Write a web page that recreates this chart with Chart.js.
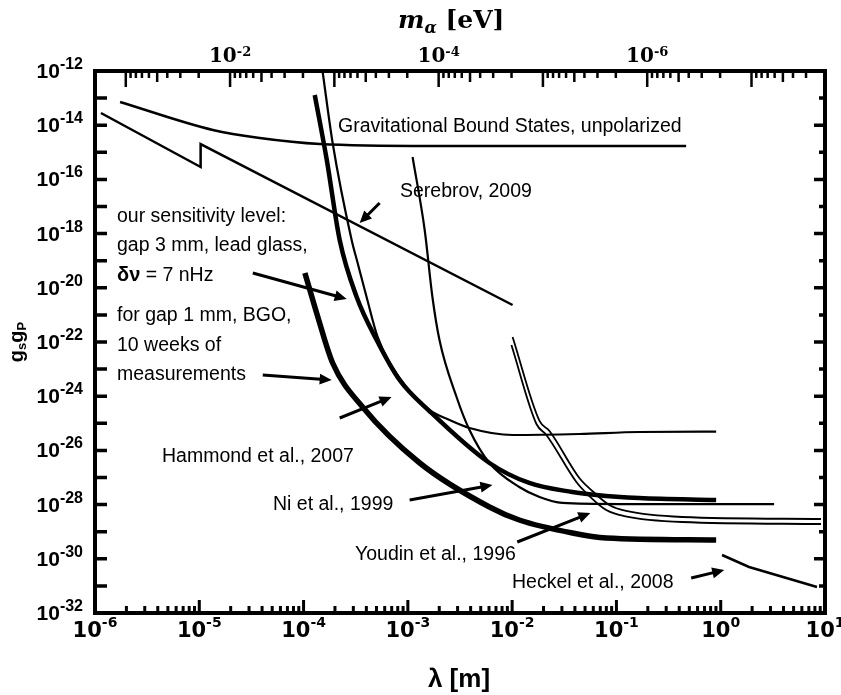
<!DOCTYPE html>
<html>
<head>
<meta charset="utf-8">
<script src="https://cdn.jsdelivr.net/npm/chart.js@4.4.1/dist/chart.umd.min.js"></script>
<style>
  html, body { margin: 0; padding: 0; background: #fff; }
  canvas { display: block; }
</style>
</head>
<body>
<canvas id="chart" width="841" height="695"></canvas>
<script>
'use strict';

// axis ranges
const LAMBDA_MIN = 1e-6, LAMBDA_MAX = 10;      // λ [m]
const G_MIN = 1e-32, G_MAX = 1e-12;            // gS gP
const HBARC = 1.9733e-7;                       // eV·m, m = ħc/λ

// tick label exponents
const xTickExps = [-6, -5, -4, -3, -2, -1, 0, 1];
const yTickExps = [-12, -14, -16, -18, -20, -22, -24, -26, -28, -30, -32];
const mTickExps = [-2, -4, -6];

// Gravitational Bound States, unpolarized
const gravLambda = [1.74e-6, 1.35e-5, 3.8e-5, 1.43e-4, 1.61e-3, 0.466];
const gravG      = [7.18e-14, 6.65e-15, 3.37e-15, 2.02e-15, 1.71e-15, 1.71e-15];

// Serebrov, 2009
const serebrovLambda = [1.14e-6, 1.03e-5, 1.03e-5, 1.01e-2];
const serebrovG      = [2.82e-14, 2.87e-16, 2.02e-15, 2.32e-21];

// our sensitivity level: gap 3 mm, lead glass, δν = 7 nHz
const leadLambda = [1.28e-4, 1.67e-4, 2.22e-4, 3.23e-4, 5.02e-4, 8.33e-4, 1.61e-3, 6.06e-3, 1.46e-2, 3.78e-2, 6.41e-2, 0.165, 0.904];
const leadG      = [1.30e-13, 5.20e-16, 5.81e-19, 4.58e-21, 1.19e-22, 3.96e-24, 2.84e-25, 3.43e-27, 6.27e-28, 2.92e-28, 2.26e-28, 1.75e-28, 1.48e-28];

// gap 1 mm, BGO, 10 weeks of measurements
const bgoLambda = [1.03e-4, 1.37e-4, 1.90e-4, 3.68e-4, 1.30e-3, 6.06e-3, 1.17e-2, 3.78e-2, 7.99e-2, 0.904];
const bgoG      = [3.52e-20, 8.37e-22, 1.68e-23, 3.99e-25, 3.43e-27, 8.15e-29, 2.70e-29, 8.95e-30, 5.86e-30, 4.94e-30];

// Hammond et al., 2007
const hammondLambda = [1.52e-4, 1.90e-4, 2.89e-4, 3.30e-4, 4.02e-4, 5.13e-4, 8.33e-4, 1.61e-3, 2.51e-3, 3.90e-3, 1.01e-2, 4.41e-2, 0.165, 0.904];
const hammondG      = [1e-12, 2.20e-15, 5.81e-19, 8.22e-20, 4.58e-21, 1.53e-22, 4.70e-24, 3.10e-25, 1.32e-25, 6.71e-26, 3.70e-26, 4.03e-26, 4.78e-26, 4.90e-26];

// Ni et al., 1999
const niLambda = [1.11e-3, 1.45e-3, 1.72e-3, 2.01e-3, 2.93e-3, 3.90e-3, 6.06e-3, 1.17e-2, 1.83e-2, 3.03e-2, 0.107, 3.25];
const niG      = [6.71e-16, 1.36e-18, 4.58e-21, 1.19e-22, 9.33e-25, 5.66e-26, 3.43e-27, 4.46e-28, 1.91e-28, 1.15e-28, 1.05e-28, 1.05e-28];

// Youdin et al., 1996 (pair of curves)
const youdinALambda = [1.01e-2, 1.83e-2, 2.28e-2, 4.41e-2, 5.87e-2, 8.54e-2, 0.124, 0.427, 9.15];
const youdinAG      = [1.53e-22, 1.22e-25, 5.20e-26, 9.60e-28, 3.18e-28, 9.66e-29, 5.81e-29, 3.48e-29, 2.94e-29];
const youdinBLambda = [9.84e-3, 1.71e-2, 2.13e-2, 4.13e-2, 5.50e-2, 7.99e-2, 0.119, 0.427, 9.15];
const youdinBG      = [7.74e-23, 9.42e-26, 3.70e-26, 6.82e-28, 2.07e-28, 6.32e-29, 3.79e-29, 2.28e-29, 1.92e-29];

// Heckel et al., 2008
const heckelLambda = [1.03, 1.87, 8.38];
const heckelG      = [1.38e-30, 4.98e-31, 9.10e-32];

// annotation arrows, in data coordinates: [λ0, g0, λ1 (tip), g1 (tip)]
const arrowSerebrov = [5.36e-4, 1.35e-17, 3.45e-4, 2.46e-18];
const arrowLead     = [3.26e-5, 3.52e-20, 2.59e-4, 3.86e-21];
const arrowBgo      = [4.06e-5, 6.05e-24, 1.86e-4, 3.96e-24];
const arrowHammond  = [2.22e-4, 1.57e-25, 6.98e-4, 9.33e-25];
const arrowNi       = [1.04e-3, 1.48e-28, 6.47e-3, 5.28e-28];
const arrowYoudin   = [1.12e-2, 4.17e-30, 5.62e-2, 4.90e-29];
const arrowHeckel   = [0.521, 1.95e-31, 1.08, 3.86e-31];

const SANS = 'Liberation Sans, Arial, sans-serif';
const NOTE_FONT = '19.5px ' + SANS;

const notes = [
  { text: 'Gravitational Bound States, unpolarized', x: 338, y: 132 },
  { text: 'Serebrov, 2009', x: 400, y: 197 },
  { text: 'our sensitivity level:', x: 117, y: 222 },
  { text: 'gap 3 mm, lead glass,', x: 117, y: 251 },
  { text: 'for gap 1 mm, BGO,', x: 117, y: 321 },
  { text: '10 weeks of', x: 117, y: 351 },
  { text: 'measurements', x: 117, y: 380 },
  { text: 'Hammond et al., 2007', x: 162, y: 462 },
  { text: 'Ni et al., 1999', x: 273, y: 510 },
  { text: 'Youdin et al., 1996', x: 355, y: 560 },
  { text: 'Heckel et al., 2008', x: 512, y: 588 }
];

function pts(xs, ys) {
  return xs.map((x, i) => ({ x, y: ys[i] }));
}

function curve(label, xs, ys, width, smooth) {
  return {
    label,
    data: pts(xs, ys),
    borderColor: '#000',
    borderWidth: width,
    pointRadius: 0,
    fill: false,
    tension: 0,
    cubicInterpolationMode: smooth ? 'monotone' : 'default'
  };
}

function runs(ctx, x, y, parts, align) {
  let w = 0;
  parts.forEach((p) => { ctx.font = p.font; w += ctx.measureText(p.t).width; });
  let cx = align === 'center' ? x - w / 2 : align === 'right' ? x - w : x;
  parts.forEach((p) => {
    ctx.font = p.font;
    ctx.fillText(p.t, cx, y + (p.dy || 0));
    cx += ctx.measureText(p.t).width;
  });
}

function pow10(ctx, x, y, exp, base, sup, rise, align) {
  runs(ctx, x, y, [{ t: '10', font: base }, { t: String(exp), font: sup, dy: -rise }], align);
}

function arrow(ctx, sx, sy, a) {
  const x0 = sx.getPixelForValue(a[0]), y0 = sy.getPixelForValue(a[1]);
  const x1 = sx.getPixelForValue(a[2]), y1 = sy.getPixelForValue(a[3]);
  const ang = Math.atan2(y1 - y0, x1 - x0), L = 12, W = 5.5;
  const bx = x1 - L * Math.cos(ang), by = y1 - L * Math.sin(ang);
  ctx.lineWidth = 3;
  ctx.beginPath(); ctx.moveTo(x0, y0); ctx.lineTo(bx + 1 * Math.cos(ang), by + 1 * Math.sin(ang)); ctx.stroke();
  ctx.beginPath();
  ctx.moveTo(x1, y1);
  ctx.lineTo(bx + W * Math.sin(ang), by - W * Math.cos(ang));
  ctx.lineTo(bx - W * Math.sin(ang), by + W * Math.cos(ang));
  ctx.closePath();
  ctx.fill();
}

const framePlugin = {
  id: 'frame',
  afterDraw(chart) {
    const { ctx, chartArea: a, scales } = chart;
    const sx = scales.x, sy = scales.y, sm = scales.m;
    ctx.save();
    ctx.strokeStyle = '#000';
    ctx.fillStyle = '#000';
    ctx.lineCap = 'butt';

    // left / right ticks, one per decade
    ctx.lineWidth = 3.5;
    ctx.beginPath();
    for (let e = -13; e >= -31; e--) {
      const py = sy.getPixelForValue(Math.pow(10, e));
      ctx.moveTo(a.left, py); ctx.lineTo(a.left + 12, py);
      ctx.moveTo(a.right, py); ctx.lineTo(a.right - (e % 2 === 0 ? 11 : 6), py);
    }
    ctx.stroke();

    // bottom ticks (λ)
    ctx.lineWidth = 3;
    ctx.beginPath();
    for (let n = -6; n <= 0; n++) {
      for (let k = 1; k <= 9; k++) {
        if (n === -6 && k === 1) continue;
        const px = sx.getPixelForValue(k * Math.pow(10, n));
        ctx.moveTo(px, a.bottom); ctx.lineTo(px, a.bottom - (k === 1 ? 13 : 7));
      }
    }
    ctx.stroke();

    // top ticks (m_α)
    ctx.lineWidth = 2.5;
    ctx.beginPath();
    for (let n = -8; n <= -1; n++) {
      for (let k = 1; k <= 9; k++) {
        const v = k * Math.pow(10, n);
        if (v < sm.min || v > sm.max) continue;
        const px = sm.getPixelForValue(v);
        ctx.moveTo(px, a.top); ctx.lineTo(px, a.top + (k === 1 ? 16 : k === 5 ? 11 : 7));
      }
    }
    ctx.stroke();

    // frame
    ctx.lineWidth = 4;
    ctx.strokeRect(a.left, a.top, a.right - a.left, a.bottom - a.top);

    // tick labels
    ctx.textBaseline = 'alphabetic';
    ctx.textAlign = 'left';
    yTickExps.forEach((e) => {
      const py = sy.getPixelForValue(Math.pow(10, e));
      pow10(ctx, a.left - 12, py + 7, e, 'bold 21px ' + SANS, 'bold 16px ' + SANS, 9, 'right');
    });
    xTickExps.forEach((e) => {
      const px = sx.getPixelForValue(Math.pow(10, e));
      pow10(ctx, px, a.bottom + 24, e, 'bold 21px DejaVu Sans', 'bold 14px DejaVu Sans', 10, 'center');
    });
    mTickExps.forEach((e) => {
      const px = sm.getPixelForValue(Math.pow(10, e));
      pow10(ctx, px, 62, e, 'bold 20px DejaVu Serif', 'bold 13px DejaVu Serif', 6, 'center');
    });

    // axis titles
    runs(ctx, 398, 28, [
      { t: 'm', font: 'italic bold 25px DejaVu Serif' },
      { t: 'α', font: 'italic bold 16px DejaVu Serif', dy: 5 },
      { t: ' [eV]', font: 'bold 25px DejaVu Serif' }
    ], 'left');
    runs(ctx, 459, 687, [{ t: 'λ [m]', font: 'bold 26px ' + SANS }], 'center');
    ctx.save();
    ctx.translate(23, 342);
    ctx.rotate(-Math.PI / 2);
    runs(ctx, 0, 0, [
      { t: 'g', font: 'bold 20px ' + SANS },
      { t: 's', font: 'bold 13px ' + SANS, dy: 3 },
      { t: 'g', font: 'bold 20px ' + SANS },
      { t: 'P', font: 'bold 13px ' + SANS, dy: 3 }
    ], 'center');
    ctx.restore();

    // notes
    ctx.font = NOTE_FONT;
    notes.forEach((n) => { ctx.font = NOTE_FONT; ctx.fillText(n.text, n.x, n.y); });
    runs(ctx, 117, 281, [
      { t: 'δν', font: 'bold 20px ' + SANS },
      { t: ' = 7 nHz', font: NOTE_FONT }
    ], 'left');

    // arrows
    [arrowSerebrov, arrowLead, arrowBgo, arrowHammond, arrowNi, arrowYoudin, arrowHeckel]
      .forEach((ar) => arrow(ctx, sx, sy, ar));

    ctx.restore();
  }
};

const hidden = { display: false };

new Chart(document.getElementById('chart'), {
  type: 'line',
  data: {
    datasets: [
      curve('Gravitational Bound States, unpolarized', gravLambda, gravG, 2.5, true),
      curve('Serebrov, 2009', serebrovLambda, serebrovG, 2.5, false),
      curve('Hammond et al., 2007', hammondLambda, hammondG, 2.2, true),
      curve('Ni et al., 1999', niLambda, niG, 2.2, true),
      curve('Youdin et al., 1996 a', youdinALambda, youdinAG, 1.8, true),
      curve('Youdin et al., 1996 b', youdinBLambda, youdinBG, 1.8, true),
      curve('Heckel et al., 2008', heckelLambda, heckelG, 2.5, false),
      curve('gap 3 mm, lead glass', leadLambda, leadG, 4.5, true),
      curve('gap 1 mm, BGO', bgoLambda, bgoG, 5.5, true)
    ]
  },
  options: {
    responsive: false,
    animation: false,
    devicePixelRatio: 1,
    layout: { padding: { left: 0, right: 16, top: 0, bottom: 0 } },
    plugins: { legend: hidden, tooltip: { enabled: false } },
    scales: {
      x: {
        type: 'logarithmic', position: 'bottom', min: LAMBDA_MIN, max: LAMBDA_MAX,
        ticks: hidden, grid: hidden, border: hidden,
        afterFit: (s) => { s.height = 82; }
      },
      m: {
        type: 'logarithmic', position: 'top', min: HBARC / LAMBDA_MAX, max: HBARC / LAMBDA_MIN,
        reverse: true, ticks: hidden, grid: hidden, border: hidden,
        afterFit: (s) => { s.height = 71; }
      },
      y: {
        type: 'logarithmic', position: 'left', min: G_MIN, max: G_MAX,
        ticks: hidden, grid: hidden, border: hidden,
        afterFit: (s) => { s.width = 95; }
      }
    }
  },
  plugins: [framePlugin]
});
</script>
</body>
</html>
